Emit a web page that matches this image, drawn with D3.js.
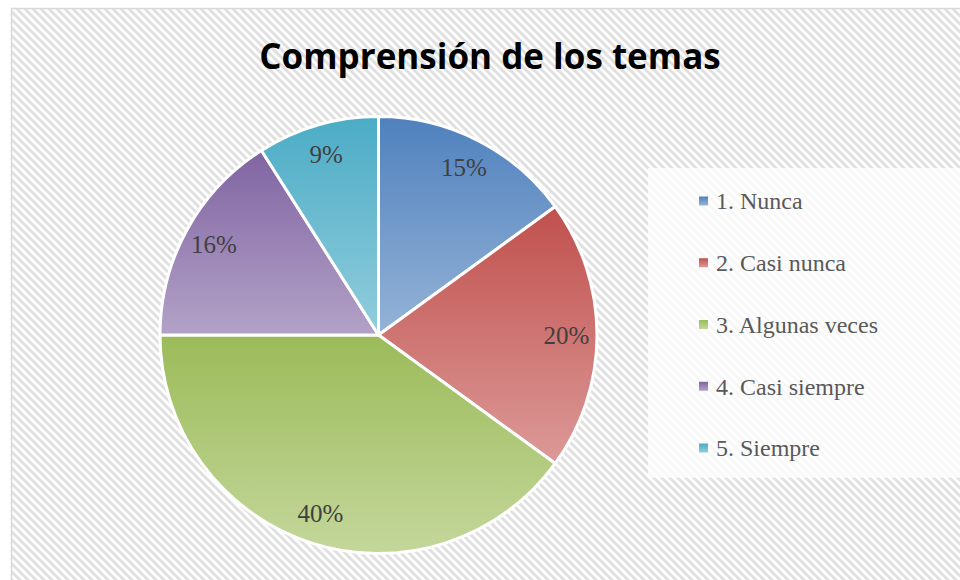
<!DOCTYPE html>
<html lang="es">
  <head>
    <meta charset="utf-8">
    <style>
    body { margin: 0; background: #fff; }
    </style>
  </head>
  <body>
    <script src="https://cdn.jsdelivr.net/npm/d3@7"></script>
    <script>
      // datos del gráfico
      var categorias = ["1. Nunca", "2. Casi nunca", "3. Algunas veces", "4. Casi siempre", "5. Siempre"];
      var valores = [15, 20, 40, 16, 9];
      var colorOscuro = ["#4f81bd", "#c0504d", "#9bbb59", "#8064a2", "#4bacc6"];
      var colorClaro = ["#95b3d7", "#dc9a98", "#c4d79b", "#b3a2c7", "#92cddc"];

      var w = 960, h = 580;
      var cx = 378.5, cy = 335, radio = 218.5;

      var svg = d3.select("body").append("svg")
        .attr("width", w)
        .attr("height", h);

      var defs = svg.append("defs");

      // fondo rayado diagonal
      var pat = defs.append("pattern")
        .attr("id", "rayas")
        .attr("width", 8)
        .attr("height", 8)
        .attr("patternUnits", "userSpaceOnUse");
      pat.append("rect").attr("width", 8).attr("height", 8).attr("fill", "#ffffff");
      pat.append("path")
        .attr("d", "M-2,-2 L10,10 M-2,6 L2,10 M6,-2 L10,2")
        .attr("stroke", "#e0e0e0")
        .attr("stroke-width", 3);

      // degradados por sector
      valores.forEach(function(d, i) {
        var g = defs.append("linearGradient")
          .attr("id", "grad" + i)
          .attr("x1", 0).attr("y1", 0).attr("x2", 0).attr("y2", 1);
        g.append("stop").attr("offset", "0%").attr("stop-color", colorOscuro[i]);
        g.append("stop").attr("offset", "100%").attr("stop-color", colorClaro[i]);
      });

      svg.append("rect")
        .attr("x", 11.5).attr("y", 8.5)
        .attr("width", w).attr("height", h)
        .attr("fill", "url(#rayas)")
        .attr("stroke", "#d9d9d9")
        .attr("stroke-width", 1.5);

      // título
      svg.append("text")
        .attr("x", 490)
        .attr("y", 69)
        .attr("text-anchor", "middle")
        .attr("font-family", "'Open Sans', sans-serif")
        .attr("font-weight", "bold")
        .attr("font-size", "35px")
        .attr("fill", "#000")
        .text("Comprensión de los temas");

      var pie = d3.pie().sort(null).value(function(d) { return d; });
      var arcos = pie(valores);
      var arc = d3.arc().innerRadius(0).outerRadius(radio);
      var arcEtiqueta = d3.arc().innerRadius(radio * 0.86).outerRadius(radio * 0.86);

      var g = svg.append("g").attr("transform", "translate(" + cx + "," + cy + ")");

      g.selectAll("path")
        .data(arcos)
        .enter()
        .append("path")
        .attr("d", arc)
        .attr("fill", function(d, i) { return "url(#grad" + i + ")"; })
        .attr("stroke", "#fff")
        .attr("stroke-width", 3)
        .attr("stroke-linejoin", "round");

      var total = d3.sum(valores);
      g.selectAll("text")
        .data(arcos)
        .enter()
        .append("text")
        .attr("transform", function(d) { return "translate(" + arcEtiqueta.centroid(d) + ")"; })
        .attr("text-anchor", "middle")
        .attr("dy", "0.35em")
        .attr("font-family", "'Liberation Serif', serif")
        .attr("font-size", "25px")
        .attr("fill", "#404040")
        .text(function(d) { return Math.round(d.value / total * 100) + "%"; });

      // leyenda
      svg.append("rect")
        .attr("x", 648).attr("y", 168)
        .attr("width", 320).attr("height", 310)
        .attr("fill", "#fff")
        .attr("opacity", 0.75);

      var y = d3.scalePoint().domain(categorias).range([201, 448]);

      var leyenda = svg.selectAll("g.leyenda")
        .data(categorias)
        .enter()
        .append("g")
        .attr("class", "leyenda")
        .attr("transform", function(d) { return "translate(699," + y(d) + ")"; });

      leyenda.append("rect")
        .attr("x", 0).attr("y", -4.5)
        .attr("width", 9).attr("height", 9)
        .attr("fill", function(d, i) { return "url(#grad" + i + ")"; });

      leyenda.append("text")
        .attr("x", 17)
        .attr("dy", "0.35em")
        .attr("font-family", "'Liberation Serif', serif")
        .attr("font-size", "24px")
        .attr("fill", "#595959")
        .text(function(d) { return d; });
    </script>
  </body>
</html>
